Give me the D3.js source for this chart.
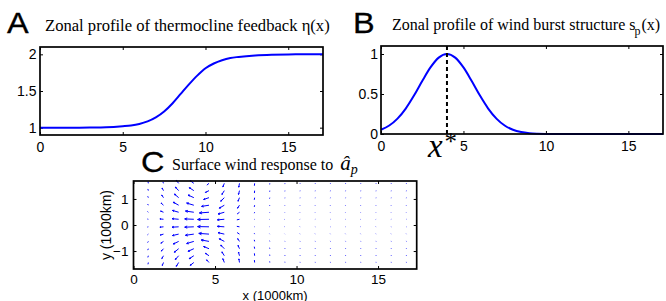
<!DOCTYPE html>
<html><head><meta charset="utf-8">
<script src="https://cdn.jsdelivr.net/npm/d3@7"></script>
<style>body{margin:0;background:#fff} svg{display:block}</style>
</head><body><svg id="chart" width="666" height="301"></svg>
<script>
// ---- Panel A: thermocline feedback eta(x)
const etaX = [0, 2, 3, 4, 5, 5.5, 6, 6.5, 7, 7.5, 8, 8.5, 9, 9.5, 10, 10.5, 11, 11.5, 12, 13, 14, 15, 16, 17.1];
const etaY = [1.000, 1.000, 1.002, 1.006, 1.02, 1.03, 1.05, 1.085, 1.14, 1.22, 1.33, 1.46, 1.59, 1.71, 1.81, 1.875, 1.92, 1.95, 1.965, 1.985, 1.995, 1.999, 2.0, 2.0];
const etaTicks = [1, 1.5, 2];
// ---- Panel B: wind burst structure s_p(x)
const spX = [0, 0.5, 1, 1.5, 2, 2.5, 3, 3.5, 4, 4.5, 5, 5.5, 6, 6.5, 7, 7.5, 8, 8.5, 9, 9.5, 10, 10.5, 11, 12, 13, 14, 15, 16, 17.1];
const spY = [0.053, 0.106, 0.192, 0.318, 0.48, 0.662, 0.832, 0.955, 1.0, 0.955, 0.832, 0.662, 0.48, 0.318, 0.192, 0.106, 0.053, 0.024, 0.010, 0.004, 0.0014, 0.0004, 0.0001, 0, 0, 0, 0, 0, 0];
const spTicks = [0, 0.5, 1];
const xStar = 4;
// ---- shared x ticks
const xTicks = [0, 5, 10, 15];
// ---- Panel C: surface wind response (quiver)
const windTicksY = [-1, 0, 1];
const windX = [0.91, 1.84, 2.77, 3.70, 4.63, 5.57, 6.50, 7.43, 8.36, 9.29, 10.22, 11.15, 12.08, 13.01, 13.94, 14.88, 15.81, 16.74];
const windY = [1.60, 1.32, 1.05, 0.76, 0.49, 0.22, -0.07, -0.35, -0.63, -0.91, -1.18, -1.44];
const windU = [
  [-0.03,-0.04,-0.05,-0.06,-0.07,-0.08,-0.08,-0.07,-0.06,-0.05,-0.04,-0.03],
  [-0.05,-0.12,-0.15,-0.2,-0.25,-0.3,-0.3,-0.27,-0.22,-0.18,-0.14,-0.1],
  [-0.2,-0.28,-0.35,-0.45,-0.52,-0.55,-0.55,-0.52,-0.45,-0.36,-0.28,-0.2],
  [-0.3,-0.38,-0.48,-0.6,-0.7,-0.76,-0.76,-0.7,-0.6,-0.48,-0.38,-0.3],
  [-0.18,-0.3,-0.45,-0.62,-0.8,-0.95,-0.95,-0.85,-0.65,-0.45,-0.3,-0.2],
  [-0.12,-0.2,-0.3,-0.42,-0.52,-0.58,-0.58,-0.52,-0.42,-0.3,-0.2,-0.12],
  [-0.06,-0.08,-0.12,-0.16,-0.2,-0.22,-0.22,-0.2,-0.15,-0.12,-0.08,-0.05],
  [-0.02,-0.02,-0.03,-0.03,-0.03,-0.04,-0.04,-0.03,-0.03,-0.03,-0.02,-0.02],
  [-0.01,-0.01,-0.02,-0.02,-0.02,-0.03,-0.03,-0.02,-0.02,-0.02,-0.01,-0.01],
  [-0.01,-0.01,-0.01,-0.02,-0.02,-0.03,-0.03,-0.02,-0.02,-0.01,-0.01,-0.01],
  [-0.01,-0.01,-0.01,-0.02,-0.02,-0.03,-0.03,-0.02,-0.02,-0.01,-0.01,-0.01],
  [-0.01,-0.01,-0.01,-0.02,-0.02,-0.03,-0.03,-0.02,-0.02,-0.01,-0.01,-0.01],
  [-0.01,-0.01,-0.01,-0.02,-0.02,-0.03,-0.03,-0.02,-0.02,-0.01,-0.01,-0.01],
  [-0.01,-0.01,-0.01,-0.02,-0.02,-0.03,-0.03,-0.02,-0.02,-0.01,-0.01,-0.01],
  [-0.01,-0.01,-0.01,-0.02,-0.02,-0.03,-0.03,-0.02,-0.02,-0.01,-0.01,-0.01],
  [-0.01,-0.01,-0.01,-0.02,-0.02,-0.03,-0.03,-0.02,-0.02,-0.01,-0.01,-0.01],
  [-0.01,-0.01,-0.01,-0.02,-0.02,-0.03,-0.03,-0.02,-0.02,-0.01,-0.01,-0.01],
  [-0.01,-0.01,-0.01,-0.02,-0.02,-0.03,-0.03,-0.02,-0.02,-0.01,-0.01,-0.01]
];
const windV = [
  [0.15,0.14,0.12,0.1,0.06,0.02,-0.02,-0.06,-0.1,-0.12,-0.14,-0.15],
  [0.12,0.22,0.22,0.18,0.1,0.03,-0.03,-0.08,-0.15,-0.2,-0.24,-0.25],
  [0.25,0.3,0.3,0.25,0.15,0.05,-0.03,-0.12,-0.22,-0.3,-0.32,-0.32],
  [0.22,0.25,0.22,0.18,0.1,0.03,-0.03,-0.1,-0.18,-0.22,-0.25,-0.24],
  [-0.15,-0.15,-0.15,-0.1,-0.06,-0.02,0.02,0.06,0.12,0.18,0.2,0.22],
  [-0.3,-0.32,-0.3,-0.25,-0.15,-0.05,0.04,0.12,0.22,0.3,0.32,0.32],
  [-0.32,-0.32,-0.3,-0.25,-0.15,-0.05,0.04,0.13,0.23,0.28,0.3,0.3],
  [-0.2,-0.2,-0.18,-0.14,-0.08,-0.03,0.02,0.07,0.13,0.17,0.2,0.2],
  [-0.09,-0.09,-0.08,-0.06,-0.04,-0.015,0.01,0.03,0.06,0.08,0.09,0.09],
  [-0.06,-0.06,-0.05,-0.04,-0.03,-0.01,0.01,0.02,0.04,0.05,0.06,0.06],
  [-0.05,-0.05,-0.045,-0.04,-0.03,-0.015,0.015,0.03,0.04,0.045,0.05,0.05],
  [-0.05,-0.05,-0.045,-0.04,-0.03,-0.015,0.015,0.03,0.04,0.045,0.05,0.05],
  [-0.05,-0.05,-0.045,-0.04,-0.03,-0.015,0.015,0.03,0.04,0.045,0.05,0.05],
  [-0.05,-0.05,-0.045,-0.04,-0.03,-0.015,0.015,0.03,0.04,0.045,0.05,0.05],
  [-0.05,-0.05,-0.045,-0.04,-0.03,-0.015,0.015,0.03,0.04,0.045,0.05,0.05],
  [-0.05,-0.05,-0.045,-0.04,-0.03,-0.015,0.015,0.03,0.04,0.045,0.05,0.05],
  [-0.05,-0.05,-0.045,-0.04,-0.03,-0.015,0.015,0.03,0.04,0.045,0.05,0.05],
  [-0.05,-0.05,-0.045,-0.04,-0.03,-0.015,0.015,0.03,0.04,0.045,0.05,0.05]
];

const svg = d3.select("#chart");
const SANS = "'Liberation Sans', Arial, Helvetica, sans-serif";
const SERIF = "'Liberation Serif', 'Times New Roman', serif";
const fmt = d3.format("~g");
const BLUE = "#0000ff";

function makeAxes(box, xDomain, yDomain, yTicks, padX, padY, fs) {
  const x = d3.scaleLinear().domain(xDomain).range([box.l, box.r]);
  const y = d3.scaleLinear().domain(yDomain).range([box.b, box.t]);
  const g = svg.append("g");
  const style = sel => {
    sel.select(".domain").remove();
    sel.selectAll("line").attr("stroke", "#000").attr("stroke-width", 1);
    sel.selectAll("text").attr("font-family", SANS).attr("font-size", fs).attr("fill", "#000");
  };
  g.append("g").attr("transform", `translate(0,${box.b})`)
    .call(d3.axisBottom(x).tickValues(xTicks).tickFormat(fmt).tickSizeInner(-3).tickSizeOuter(0).tickPadding(padX)).call(style);
  g.append("g").attr("transform", `translate(0,${box.t})`)
    .call(d3.axisTop(x).tickValues(xTicks).tickFormat("").tickSizeInner(-3).tickSizeOuter(0)).call(style);
  g.append("g").attr("transform", `translate(${box.l},0)`)
    .call(d3.axisLeft(y).tickValues(yTicks).tickFormat(fmt).tickSizeInner(-3).tickSizeOuter(0).tickPadding(padY)).call(style);
  g.append("g").attr("transform", `translate(${box.r},0)`)
    .call(d3.axisRight(y).tickValues(yTicks).tickFormat("").tickSizeInner(-3).tickSizeOuter(0)).call(style);
  return {x, y, g};
}
function frame(box) {
  svg.append("rect").attr("x", box.l).attr("y", box.t)
    .attr("width", box.r - box.l).attr("height", box.b - box.t)
    .attr("fill", "none").attr("stroke", "#000").attr("stroke-width", 1.7);
}
function bigLetter(txt, x, y) {
  svg.append("text").attr("transform", `translate(${x},${y}) scale(1.12,1)`)
    .attr("font-family", SANS).attr("font-size", 29)
    .attr("stroke", "#000").attr("stroke-width", 0.3).text(txt);
}

// ---------- Panel A
const boxA = {l: 40, r: 323, t: 47, b: 135};
const A = makeAxes(boxA, [0, 17.1], [0.9, 2.1], etaTicks, 7, 3.5, 14);
svg.append("path").datum(etaX.map((d, i) => [d, etaY[i]]))
  .attr("fill", "none").attr("stroke", BLUE).attr("stroke-width", 2)
  .attr("d", d3.line().x(d => A.x(d[0])).y(d => A.y(d[1])).curve(d3.curveMonotoneX));
frame(boxA);
bigLetter("A", 7, 33);
svg.append("text").attr("x", 45).attr("y", 31).attr("font-family", SERIF).attr("font-size", 16.6)
  .text("Zonal profile of thermocline feedback η(x)");

// ---------- Panel B
const boxB = {l: 381, r: 663, t: 46, b: 134};
const B = makeAxes(boxB, [0, 17.1], [0, 1.1], spTicks, 7, 3, 14);
svg.append("path").datum(spX.map((d, i) => [d, spY[i]]))
  .attr("fill", "none").attr("stroke", BLUE).attr("stroke-width", 2)
  .attr("d", d3.line().x(d => B.x(d[0])).y(d => B.y(d[1])).curve(d3.curveMonotoneX));
svg.append("line").attr("x1", B.x(xStar)).attr("x2", B.x(xStar))
  .attr("y1", boxB.t).attr("y2", boxB.b)
  .attr("stroke", "#000").attr("stroke-width", 2).attr("stroke-dasharray", "4,3");
frame(boxB);
bigLetter("B", 353, 33);
const tB = svg.append("text").attr("x", 392).attr("y", 30).attr("font-family", SERIF).attr("font-size", 16);
tB.append("tspan").text("Zonal profile of wind burst structure s");
tB.append("tspan").attr("font-size", 12).attr("dy", 5).attr("dx", -1).text("p");
tB.append("tspan").attr("dy", -5).attr("dx", 1).text("(x)");
const xs = svg.append("text").attr("x", B.x(xStar) - 19).attr("y", 157)
  .attr("font-family", SERIF).attr("font-size", 33).attr("font-style", "italic");
xs.append("tspan").text("x");
xs.append("tspan").attr("font-style", "normal").attr("font-size", 25).attr("dx", 2).attr("dy", -7).text("*");

// ---------- Panel C
const boxC = {l: 133.5, r: 416.7, t: 181, b: 269};
const C = makeAxes(boxC, [0, 17.37], [-1.69, 1.69], windTicksY, 5, 5, 13.5);
const arrowLen = 12;   // px per unit of wind magnitude
const gq = svg.append("g").attr("stroke", BLUE).attr("fill", "none").attr("stroke-width", 1);
windX.forEach((xv, i) => {
  windY.forEach((yv, j) => {
    const u = windU[i][j], v = windV[i][j];
    const x0 = C.x(xv), y0 = C.y(yv);
    const dx = u * arrowLen, dy = -v * arrowLen;
    const x1 = x0 + dx, y1 = y0 + dy;
    const len = Math.hypot(dx, dy);
    let d = `M${x0},${y0}L${x1},${y1}`;
    if (len > 3) {
      const h = Math.min(0.3 * len, 3.2), a = Math.atan2(dy, dx), s = 0.42;
      const hx1 = x1 - h * Math.cos(a - s), hy1 = y1 - h * Math.sin(a - s);
      const hx2 = x1 - h * Math.cos(a + s), hy2 = y1 - h * Math.sin(a + s);
      d += `M${hx1},${hy1}L${x1},${y1}L${hx2},${hy2}`;
    }
    gq.append("path").attr("d", d);
  });
});
frame(boxC);
bigLetter("C", 141, 172);
const tC = svg.append("text").attr("x", 172).attr("y", 170).attr("font-family", SERIF).attr("font-size", 16);
tC.append("tspan").text("Surface wind response to ");
tC.append("tspan").attr("font-style", "italic").attr("font-size", 21).attr("dx", 3).text("â");
tC.append("tspan").attr("font-style", "italic").attr("font-size", 14).attr("dy", 4).text("p");
svg.append("text").attr("x", (boxC.l + boxC.r) / 2).attr("y", 299.5).attr("text-anchor", "middle")
  .attr("font-family", SANS).attr("font-size", 13).text("x (1000km)");
svg.append("text").attr("transform", `translate(111,${(boxC.t + boxC.b) / 2}) rotate(-90)`)
  .attr("text-anchor", "middle").attr("font-family", SANS).attr("font-size", 14).text("y (1000km)");
</script></body></html>
